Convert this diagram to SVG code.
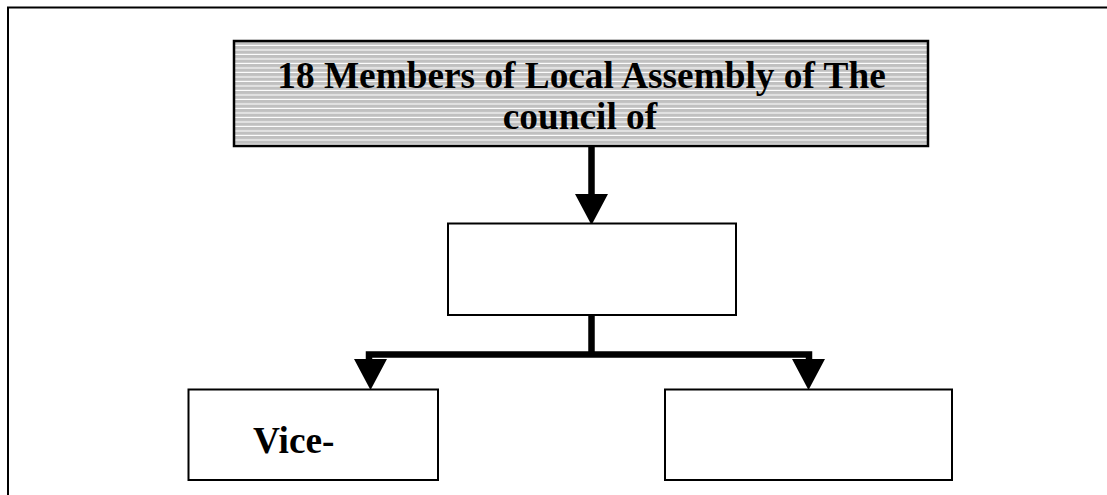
<svg xmlns="http://www.w3.org/2000/svg" width="1107" height="495" viewBox="0 0 1107 495">
  <style>
    .lbl { font-family: "Liberation Serif", "Times New Roman", serif; font-weight: bold; font-size: 37.3px; fill: #000; }
    .box { fill: #fff; stroke: #000; stroke-width: 2; }
    .wire { fill: none; stroke: #000; stroke-width: 6.5; }
    .head { fill: #000; }
  </style>
  <defs>
    <!-- horizontal line shading for the heading box -->
    <pattern id="stripes" x="0" y="41.5" width="8" height="4.5" patternUnits="userSpaceOnUse">
      <rect width="8" height="4.5" fill="#c0c0c0"/>
      <rect y="3.4" width="8" height="1.1" fill="#ffffff"/>
    </pattern>
  </defs>

  <rect width="1107" height="495" fill="#fff"/>

  <!-- page frame (left and top edges) -->
  <path d="M8 496 V7.5 H1108" fill="none" stroke="#000" stroke-width="2"/>

  <g id="connectors">
    <path class="wire" d="M591.5 146 V196"/>
    <polygon class="head" points="575,194 608,194 591.5,225"/>
    <path class="wire" d="M591.5 316 V354.5"/>
    <path class="wire" d="M369 359 V354.5 H809 V359"/>
    <polygon class="head" points="354,359 387,359 370.5,390"/>
    <polygon class="head" points="792,359 825,359 808.5,390"/>
  </g>

  <g id="assembly">
    <rect x="234" y="41" width="694" height="105" fill="url(#stripes)" stroke="#000" stroke-width="2.5"/>
    <text class="lbl" x="581.5" y="88" text-anchor="middle">18 Members of Local Assembly of The</text>
    <text class="lbl" x="580" y="128.5" text-anchor="middle">council of</text>
  </g>

  <g id="middle">
    <rect class="box" x="448" y="223.5" width="288" height="91.5"/>
  </g>

  <g id="vice">
    <rect class="box" x="188.5" y="389.5" width="249.5" height="90.5"/>
    <text class="lbl" x="253" y="453">Vice-</text>
  </g>

  <g id="right">
    <rect class="box" x="665" y="389.5" width="287" height="90.5"/>
  </g>
</svg>
